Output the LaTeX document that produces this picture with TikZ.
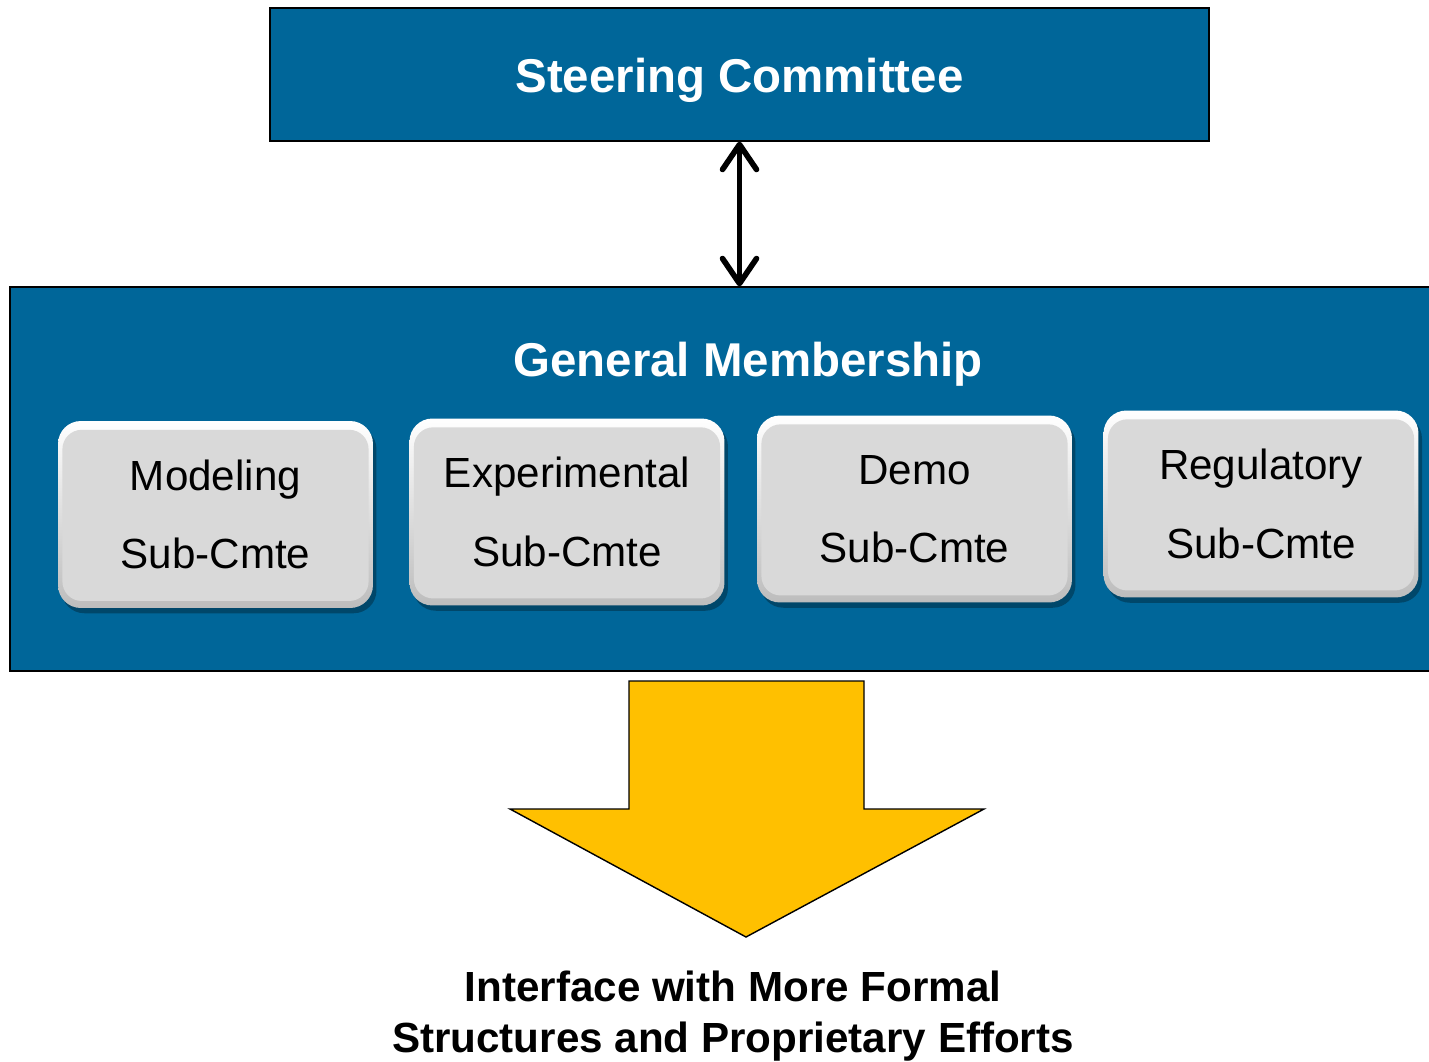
\documentclass[tikz,border=0pt]{standalone}
\usepackage{fontspec}
\setmainfont{Liberation Sans}
\usetikzlibrary{arrows.meta,shadows}

\definecolor{cmteblue}{HTML}{006699}
\definecolor{outyellow}{HTML}{FFC000}

\tikzset{
  panel/.style={fill=cmteblue, draw=black, line width=0.8pt},
  paneltext/.style={text=white, font=\bfseries\fontsize{27}{32}\selectfont},
  subcmte/.style={rounded corners=13pt, top color=white, bottom color=black!26,
    minimum width=6.3cm, minimum height=3.74cm, align=center,
    font=\fontsize{24}{44.5}\selectfont,
    drop shadow={shadow xshift=2pt, shadow yshift=-3pt, fill=black, opacity=0.3},
    path picture={\fill[black!15, rounded corners=11pt]
      ([shift={(2.5pt,-5pt)}]path picture bounding box.north west) rectangle
      ([shift={(-2.5pt,4pt)}]path picture bounding box.south east);}},
  link/.style={line width=3.2pt, {Straight Barb[length=0.5cm,width=0.68cm,round]}-{Straight Barb[length=0.5cm,width=0.68cm,round]}}
}

\begin{document}
\begin{tikzpicture}[x=0.02cm, y=-0.02cm]
\useasboundingbox (0,0) rectangle (1429,1061);

\node (SC) at (739.5,74.5) [panel, minimum width=18.78cm, minimum height=2.66cm]{};
\node (SC-0) at (739.5,80) [paneltext]{Steering Committee};

\node (GM) at (721,479) [panel, minimum width=28.44cm, minimum height=7.68cm]{};
\node (GM-0) at (748,364) [paneltext]{General Membership};

\node (GM-1) at (215.5,514.5) [subcmte]{Modeling\\Sub-Cmte};
\node (GM-2) at (567,512) [subcmte]{Experimental\\Sub-Cmte};
\node (GM-3) at (914.5,509) [subcmte]{Demo\\Sub-Cmte};
\node (GM-4) at (1261,504) [subcmte]{Regulatory\\Sub-Cmte};

\draw [link] (SC.south) -- (SC.south |- GM.north);

\draw [fill=outyellow, line width=0.8pt] (629,681) -- (864,681) -- (864,809) -- (984,809)
  -- (746,937) -- (510,809) -- (629,809) -- cycle;

\node (OUT) at (733,1016) [align=center, font=\bfseries\fontsize{24}{29}\selectfont]
  {Interface with More Formal\\Structures and Proprietary Efforts};

\end{tikzpicture}
\end{document}
